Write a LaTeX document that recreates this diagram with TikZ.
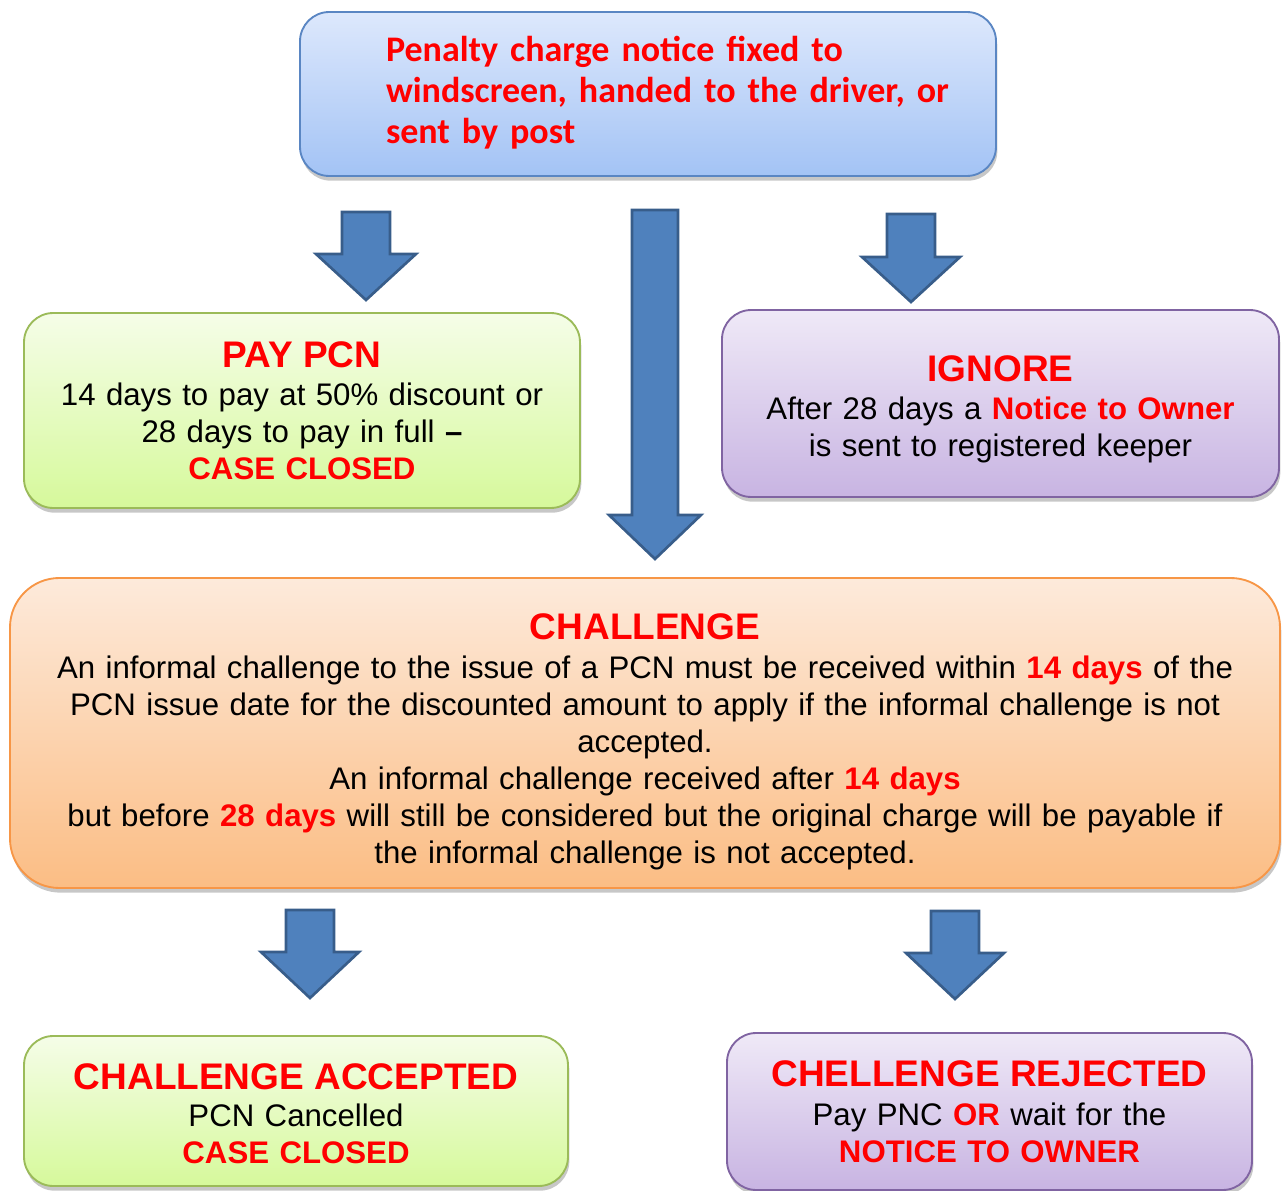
\documentclass[tikz,border=0pt]{standalone}
\usepackage{fontspec}
\setmainfont{Liberation Sans}
\newfontfamily\calibfont{Carlito}
\usetikzlibrary{shadows}
\definecolor{pcnred}{HTML}{FF0000}
\definecolor{arrfill}{HTML}{4F81BD}
\definecolor{arrdraw}{HTML}{385D8A}
\definecolor{bluetop}{HTML}{DDE8FC}
\definecolor{bluebot}{HTML}{A3C3F5}
\definecolor{blueline}{HTML}{5A86C3}
\definecolor{greentop}{HTML}{F5FDE8}
\definecolor{greenbot}{HTML}{D6F99B}
\definecolor{greenline}{HTML}{9BBB59}
\definecolor{purptop}{HTML}{EFE9F7}
\definecolor{purpbot}{HTML}{C8B4E2}
\definecolor{purpline}{HTML}{8064A2}
\definecolor{orgtop}{HTML}{FDEADB}
\definecolor{orgbot}{HTML}{FBBD84}
\definecolor{orgline}{HTML}{F79646}
\newcommand\redb[1]{\textbf{\color{pcnred}#1}}
% title line; #1 = strut height (moves the whole text down)
\newcommand\ttl[2]{{\rule{0pt}{#1}\fontsize{27.75}{27.75}\selectfont\bfseries\color{pcnred}#2}}
\newcommand\BArrow[6]{\draw[blockarrow] (#1-#5,#2) -- (#1+#5,#2) -- (#1+#5,#3) -- (#1+#6,#3) -- (#1,#4) -- (#1-#6,#3) -- (#1-#5,#3) -- cycle;}
\tikzset{
  box/.style={draw, line width=1.4pt, rounded corners=22pt, inner xsep=5pt, inner ysep=0pt,
    align=center, font=\fontsize{23.4}{27.75}\selectfont,
    drop shadow={shadow xshift=1pt, shadow yshift=-3.5pt, fill=black, opacity=0.22}},
  bluebox/.style={box, draw=blueline, top color=bluetop, bottom color=bluebot},
  greenbox/.style={box, draw=greenline, top color=greentop, bottom color=greenbot},
  purpbox/.style={box, draw=purpline, top color=purptop, bottom color=purpbot},
  orgbox/.style={box, draw=orgline, top color=orgtop, bottom color=orgbot, rounded corners=37pt},
  blockarrow/.style={fill=arrfill, draw=arrdraw, line width=2pt, line join=miter}
}
\begin{document}
\begin{tikzpicture}[x=0.75pt,y=-0.75pt]
\useasboundingbox (0,0) rectangle (1282,1191);

% top box
\node[bluebox, minimum width=522pt, minimum height=123pt, text width=512pt, align=left,
      font=\calibfont\bfseries\fontsize{27}{30.75}\selectfont\color{pcnred}] (top) at (648,94)
  {\hspace*{59.5pt}\begin{tabular}{@{}l@{}}Penalty charge notice fixed to\\windscreen, handed to the driver, or\\sent by post\end{tabular}};

% pay
\node[greenbox, minimum width=417pt, minimum height=146.25pt, text width=407pt] (pay) at (302,410.5)
  {\ttl{20pt}{PAY PCN}\\[1pt]14 days to pay at 50\% discount or\\28 days to pay in full \textbf{--}\\\redb{CASE CLOSED}};

% ignore
\node[purpbox, minimum width=417.75pt, minimum height=140.25pt, text width=407pt] (ign) at (1000.5,403.5)
  {\ttl{28pt}{IGNORE}\\[1pt]After 28 days a \redb{Notice to Owner}\\is sent to registered keeper};

% challenge
\node[orgbox, minimum width=952.5pt, minimum height=232.5pt, text width=942pt] (chal) at (645,733)
  {\ttl{32.5pt}{CHALLENGE}\\[1pt]An informal challenge to the issue of a PCN must be received within \redb{14 days} of the\\
   PCN issue date for the discounted amount to apply if the informal challenge is not\\
   accepted.\\
   An informal challenge received after \redb{14 days}\\
   but before \redb{28 days} will still be considered but the original charge will be payable if\\
   the informal challenge is not accepted.};

% accepted
\node[greenbox, minimum width=408pt, minimum height=112.5pt, text width=398pt] (acc) at (296,1111)
  {\ttl{23pt}{CHALLENGE ACCEPTED}\\[0pt]PCN Cancelled\\\redb{CASE CLOSED}};

% rejected
\node[purpbox, minimum width=393.75pt, minimum height=117.75pt, text width=383pt] (rej) at (989.5,1111.5)
  {\ttl{20pt}{CHELLENGE REJECTED}\\[1.5pt]Pay PNC \redb{OR} wait for the\\\redb{NOTICE TO OWNER}};

% block arrows
\BArrow{366}{212}{254}{300}{24}{50}
\BArrow{655}{210}{515}{559}{23}{46}
\BArrow{911}{214}{257}{302}{24}{49}
\BArrow{310}{910}{952}{998}{24}{49}
\BArrow{955}{911}{953}{999}{24}{49}
\end{tikzpicture}
\end{document}
